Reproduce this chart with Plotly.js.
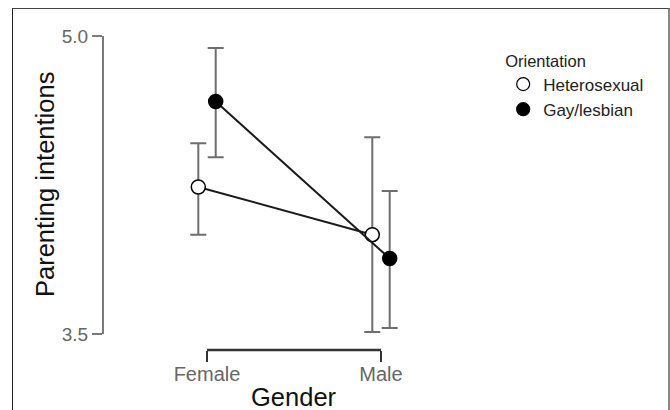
<!DOCTYPE html>
<html>
<head>
<meta charset="utf-8">
<script src="https://cdn.plot.ly/plotly-3.0.1.min.js"></script>
<style>
  html, body { margin: 0; padding: 0; background: #fff; }
  #wrap { position: relative; width: 670px; height: 410px; overflow: hidden; }
  #chart { position: absolute; left: 0; top: 0; width: 670px; height: 410px; }
  #frame { position: absolute; left: 12px; top: 8px; width: 655px; height: 420px;
           border-left: 1px solid #222; border-top: 1px solid #444; border-right: 2px solid #888;
           pointer-events: none; }
</style>
</head>
<body>
<div id="wrap">
  <div id="chart"></div>
  <div id="frame"></div>
</div>
<script>
// ---- data ----
const categories = ['Female', 'Male'];
const groupNames = ['Heterosexual', 'Gay/lesbian'];

const heteroMean  = [4.24, 4.00];
const heteroUpper = [4.46, 4.49];
const heteroLower = [4.00, 3.51];

const gayMean  = [4.67, 3.88];
const gayUpper = [4.94, 4.22];
const gayLower = [4.39, 3.53];

const yTickVals = [3.5, 5.0];
const yTickText = ['3.5', '5.0'];

// ---- build ----
const FONT = '"Liberation Sans", Arial, sans-serif';
const catPos = categories.map((c, i) => i + 1);
const dodge = 0.05;

function diff(a, b) { return a.map((v, i) => +(v - b[i]).toFixed(4)); }

function dataTrace(name, means, upper, lower, offset, fill) {
  return {
    type: 'scatter', mode: 'lines+markers', name: name, showlegend: false,
    x: catPos.map(p => p + offset), y: means,
    line: { color: '#1a1a1a', width: 2 },
    marker: { size: 14, color: fill, line: { color: '#000', width: 1.5 } },
    error_y: { type: 'data', symmetric: false,
               array: diff(upper, means), arrayminus: diff(means, lower),
               color: '#6e6e6e', thickness: 2, width: 8 },
    cliponaxis: false, hoverinfo: 'skip'
  };
}
function legendTrace(name, fill) {
  return {
    type: 'scatter', mode: 'markers', name: name, x: [null], y: [null],
    marker: { size: 13, color: fill, line: { color: '#000', width: 1.2 } },
    hoverinfo: 'skip'
  };
}

const traces = [
  dataTrace(groupNames[0], heteroMean, heteroUpper, heteroLower, -dodge, '#ffffff'),
  dataTrace(groupNames[1], gayMean, gayUpper, gayLower, dodge, '#000000'),
  legendTrace(groupNames[0], '#ffffff'),
  legendTrace(groupNames[1], '#000000')
];

const yMin = Math.min(...yTickVals), yMax = Math.max(...yTickVals);
const xMid = (catPos[0] + catPos[catPos.length - 1]) / 2;

const layout = {
  width: 670, height: 410,
  margin: { l: 103, r: 190, t: 36, b: 60 },
  paper_bgcolor: '#fff', plot_bgcolor: 'rgba(0,0,0,0)',
  font: { family: FONT, color: '#333' },
  showlegend: true,
  xaxis: {
    range: [0.4023, 2.569], showgrid: false, zeroline: false, showline: false,
    tickvals: catPos, ticktext: categories,
    ticks: 'outside', ticklen: 11, tickwidth: 2.5, tickcolor: '#333',
    ticklabelstandoff: -5,
    tickfont: { family: FONT, size: 20, color: '#666' }
  },
  yaxis: {
    range: [3.4195, 5.0], showgrid: false, zeroline: false, showline: false,
    tickvals: yTickVals, ticktext: yTickText,
    ticks: 'outside', ticklen: 10, tickwidth: 2, tickcolor: '#7a7a7a',
    tickfont: { family: FONT, size: 19, color: '#666' }
  },
  shapes: [
    { type: 'line', xref: 'x', yref: 'paper', x0: catPos[0], x1: catPos[catPos.length - 1], y0: 0, y1: 0,
      line: { color: '#333', width: 2.5 } },
    { type: 'line', xref: 'paper', yref: 'y', x0: 0, x1: 0, y0: yMin, y1: yMax,
      line: { color: '#7a7a7a', width: 2 } }
  ],
  annotations: [
    { text: 'Gender', xref: 'x', yref: 'paper', x: xMid, y: 0, yshift: -47,
      xanchor: 'center', yanchor: 'middle', showarrow: false,
      font: { family: FONT, size: 25.5, color: '#111' } },
    { text: 'Parenting intentions', xref: 'paper', yref: 'y', x: 0, xshift: -58,
      y: (yMin + yMax) / 2, textangle: -90, xanchor: 'center', yanchor: 'middle', showarrow: false,
      font: { family: FONT, size: 25.5, color: '#111' } }
  ],
  legend: {
    xref: 'container', yref: 'container', x: 0.751, y: 0.89, xanchor: 'left', yanchor: 'top',
    bgcolor: 'rgba(0,0,0,0)', borderwidth: 0,
    title: { text: 'Orientation', font: { family: FONT, size: 16.5, color: '#222' } },
    font: { family: FONT, size: 17, color: '#222' },
    itemwidth: 30, tracegroupgap: 0
  }
};

Plotly.newPlot('chart', traces, layout, { staticPlot: true, displayModeBar: false });
</script>
</body>
</html>
